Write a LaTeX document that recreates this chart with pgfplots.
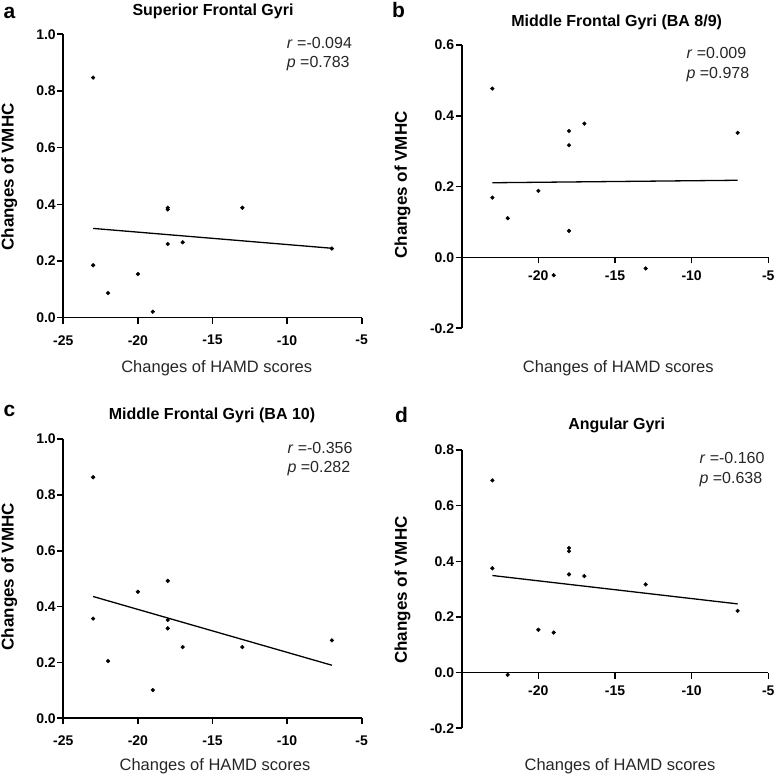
\documentclass[border=0pt]{standalone}
\usepackage{pgfplots}
\pgfplotsset{compat=1.18}
\usepackage{fontspec}
\setmainfont{Liberation Sans}

\pgfplotstableread{
x y
-23 0.847
-23 0.185
-22 0.087
-20 0.154
-19 0.021
-18 0.388
-18 0.382
-18 0.260
-17 0.266
-13 0.388
-7 0.244
}\dataA
\pgfplotstableread{
x y
-23 0.477
-23 0.169
-22 0.111
-20 0.188
-19 -0.050
-18 0.357
-18 0.317
-18 0.075
-17 0.378
-13 -0.031
-7 0.352
}\dataB
\pgfplotstableread{
x y
-23 0.863
-23 0.357
-22 0.205
-20 0.453
-19 0.101
-18 0.492
-18 0.352
-18 0.322
-17 0.255
-13 0.255
-7 0.279
}\dataC
\pgfplotstableread{
x y
-23 0.691
-23 0.375
-22 -0.008
-20 0.154
-19 0.144
-18 0.448
-18 0.436
-18 0.353
-17 0.347
-13 0.317
-7 0.222
}\dataD

\pgfplotsset{
 vm/.style={
  scale only axis,
  anchor=south west,
  axis y line*=left,
  axis line style={line width=1.6pt, -},
  tick align=outside,
  major tick length=6pt,
  every tick/.style={line width=1.6pt, black},
  tick label style={font=\fontsize{14}{16}\selectfont\bfseries},
  yticklabel style={xshift=2pt},
  xmin=-25, xmax=-5,
  clip=false,
 },
 pts/.style={only marks, mark=*, mark size=1.9pt, black},
 fit/.style={no marks, black, line width=1.3pt},
}
\tikzset{
 ttl/.style={font=\fontsize{16}{18}\selectfont\bfseries},
 lett/.style={font=\fontsize{21}{23}\selectfont\bfseries, anchor=south west, inner sep=0pt},
 ylab/.style={rotate=90, font=\fontsize{17}{19}\selectfont\bfseries},
 xlab/.style={font=\fontsize{16.5}{18}\selectfont, black!85},
 stat/.style={anchor=west, font=\fontsize{16}{18}\selectfont, black!85, inner sep=0pt},
}

\begin{document}
\begin{tikzpicture}
\useasboundingbox (0pt,0pt) rectangle (777pt,778pt);

% ---------- a ----------
\begin{axis}[vm, at={(63.3pt,460.3pt)}, width=298.4pt, height=283.4pt,
  axis x line*=bottom,
  ymin=0, ymax=1.0,
  xtick={-25,-20,-15,-10,-5}, xticklabels={-25,-20,-15,-10,-5},
  xticklabel style={yshift=-8pt},
  ytick={0,0.2,0.4,0.6,0.8,1.0}, yticklabels={0.0,0.2,0.4,0.6,0.8,1.0}]
\addplot[pts] table[x=x,y=y] {\dataA};
\addplot[fit] coordinates {(-23,0.315) (-7,0.245)};
\end{axis}

% ---------- b ----------
\begin{axis}[vm, at={(461.7pt,449.7pt)}, width=306.6pt, height=283.3pt,
  axis x line*=middle,
  ymin=-0.2, ymax=0.6,
  xtick={-20,-15,-10,-5}, xticklabels={-20,-15,-10,-5},
  xticklabel style={yshift=-4pt},
  ytick={-0.2,0,0.2,0.4,0.6}, yticklabels={-0.2,0.0,0.2,0.4,0.6}]
\addplot[pts] table[x=x,y=y] {\dataB};
\addplot[fit] coordinates {(-23,0.211) (-7,0.218)};
\end{axis}

% ---------- c ----------
\begin{axis}[vm, at={(63.3pt,59.7pt)}, width=298.4pt, height=279.3pt,
  axis x line*=bottom,
  ymin=0, ymax=1.0,
  xtick={-25,-20,-15,-10,-5}, xticklabels={-25,-20,-15,-10,-5},
  xticklabel style={yshift=-8pt},
  ytick={0,0.2,0.4,0.6,0.8,1.0}, yticklabels={0.0,0.2,0.4,0.6,0.8,1.0}]
\addplot[pts] table[x=x,y=y] {\dataC};
\addplot[fit] coordinates {(-23,0.436) (-7,0.190)};
\end{axis}

% ---------- d ----------
\begin{axis}[vm, at={(461.7pt,49.7pt)}, width=306.6pt, height=278.3pt,
  axis x line*=middle,
  ymin=-0.2, ymax=0.8,
  xtick={-20,-15,-10,-5}, xticklabels={-20,-15,-10,-5},
  xticklabel style={yshift=-3.5pt},
  ytick={-0.2,0,0.2,0.4,0.6,0.8}, yticklabels={-0.2,0.0,0.2,0.4,0.6,0.8}]
\addplot[pts] table[x=x,y=y] {\dataD};
\addplot[fit] coordinates {(-23,0.349) (-7,0.247)};
\end{axis}

% letters
\node[lett] at (3.5pt,759pt) {a};
\node[lett] at (392pt,760pt) {b};
\node[lett] at (3.5pt,361.3pt) {c};
\node[lett] at (395pt,354.7pt) {d};
% titles
\node[ttl] at (213pt,767pt) {Superior Frontal Gyri};
\node[ttl] at (616.7pt,756pt) {Middle Frontal Gyri (BA 8/9)};
\node[ttl] at (212pt,362.3pt) {Middle Frontal Gyri (BA 10)};
\node[ttl] at (616.7pt,353pt) {Angular Gyri};
% y labels
\node[ylab] at (9.3pt,601pt) {Changes of VMHC};
\node[ylab] at (402.5pt,593pt) {Changes of VMHC};
\node[ylab] at (9.3pt,201.3pt) {Changes of VMHC};
\node[ylab] at (402.5pt,188pt) {Changes of VMHC};
% x labels
\node[xlab] at (216.7pt,410pt) {Changes of HAMD scores};
\node[xlab] at (618.3pt,409.7pt) {Changes of HAMD scores};
\node[xlab] at (215pt,11.3pt) {Changes of HAMD scores};
\node[xlab] at (620pt,11.3pt) {Changes of HAMD scores};
% statistics
\node[stat] at (286.7pt,734.7pt) {\textit{r} =-0.094};
\node[stat] at (286.7pt,714.7pt) {\textit{p} =0.783};
\node[stat] at (686.3pt,724.7pt) {\textit{r} =0.009};
\node[stat] at (686.3pt,703pt) {\textit{p} =0.978};
\node[stat] at (287.3pt,329.7pt) {\textit{r} =-0.356};
\node[stat] at (287.3pt,309pt) {\textit{p} =0.282};
\node[stat] at (699.3pt,319.7pt) {\textit{r} =-0.160};
\node[stat] at (699.3pt,298.7pt) {\textit{p} =0.638};
\end{tikzpicture}
\end{document}
